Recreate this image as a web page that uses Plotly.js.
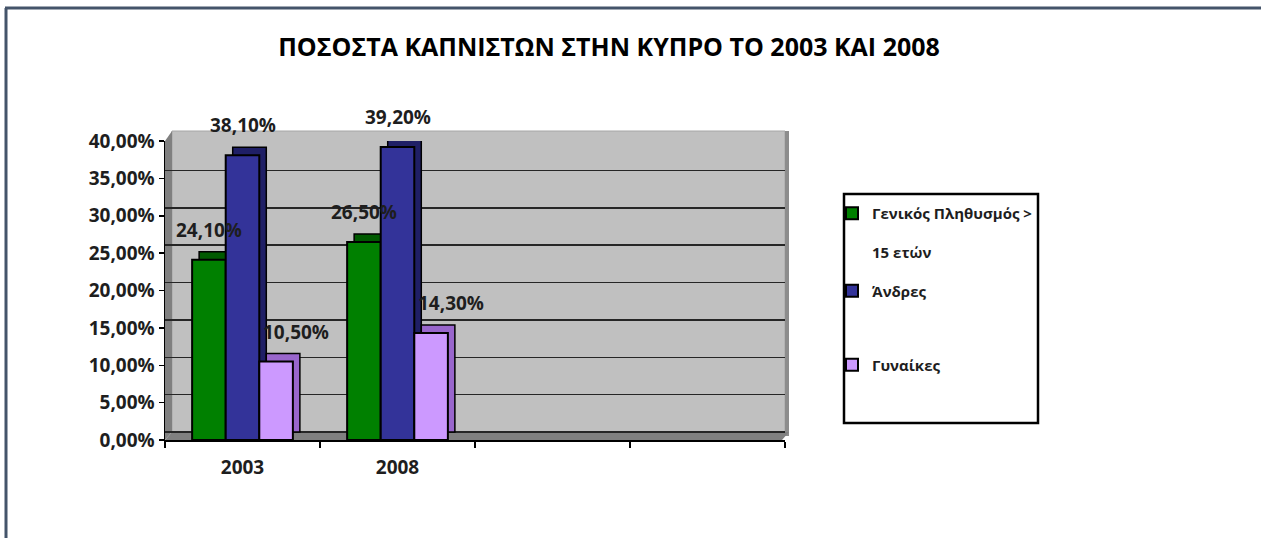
<!DOCTYPE html>
<html><head><meta charset="utf-8">
<script src="https://cdn.plot.ly/plotly-3.0.1.min.js"></script>
<style>html,body{margin:0;padding:0;background:#fff}#chart{width:1261px;height:538px}</style>
</head><body><div id="chart"></div>
<script>
// ---- data ----
const categories = ['2003', '2008', '\u200b', '\u200b\u200b'];
const years = ['2003', '2008'];
const seriesNames = ['Γενικός Πληθυσμός ><br><br>15 ετών', 'Άνδρες', 'Γυναίκες'];
const generalPop = [0.241, 0.265];
const men = [0.381, 0.392];
const women = [0.105, 0.143];
const yTickVals = [0, 0.05, 0.10, 0.15, 0.20, 0.25, 0.30, 0.35, 0.40];
const titleText = 'ΠΟΣΟΣΤΑ ΚΑΠΝΙΣΤΩΝ ΣΤΗΝ ΚΥΠΡΟ ΤΟ 2003 ΚΑΙ 2008';

// ---- style ----
const colors = ['#008000', '#333399', '#cc99ff'];
const depthColors = ['#005a00', '#1f1f66', '#9966cc'];
const W = 1261, H = 538;
const M = {l: 165, r: 476, t: 141, b: 98};
const PW = W - M.l - M.r, PH = H - M.t - M.b;
const px = x => (x - M.l) / PW;
const py = y => (H - M.b - y) / PH;
const FONT = 'Open Sans, Noto Sans, DejaVu Sans, sans-serif';
const txtColor = '#1e1e1e';
const yMax = 0.40;
const groupW = 0.65;
const barW = groupW / 3;
const catPx = PW / 4;
const depthDX = 7 / catPx;          // 3D depth, x (category units)
const depthDY = 8 * yMax / PH;       // 3D depth, y (value units)

const series = [generalPop, men, women];
const traces = [];
// back faces (3D depth) on the back-wall axis y
series.forEach((vals, k) => {
  traces.push({
    type: 'bar', x: years, y: vals, yaxis: 'y', width: barW,
    offset: -groupW / 2 + k * barW + depthDX,
    marker: {color: depthColors[k], line: {color: '#000', width: 1.5}},
    showlegend: false, hoverinfo: 'skip'
  });
});
// front faces on the front axis y2
series.forEach((vals, k) => {
  traces.push({
    type: 'bar', x: years, y: vals, yaxis: 'y2', name: seriesNames[k], width: barW,
    offset: -groupW / 2 + k * barW,
    marker: {color: colors[k], line: {color: '#000', width: 2}},
    legend: k === 0 ? 'legend' : 'legend' + (k + 1),
    hoverinfo: 'skip'
  });
});

const fmt = v => (v * 100).toFixed(2).replace('.', ',') + '%';
const labelXShift = [0, 0, 20];
const annotations = [];
series.forEach((vals, k) => {
  vals.forEach((v, i) => {
    annotations.push({
      xref: 'x', yref: 'y2', x: i + (k - 1) * barW, y: v,
      text: fmt(v), showarrow: false, yanchor: 'bottom',
      yshift: 15, xshift: labelXShift[k],
      font: {family: FONT, size: 19, color: txtColor, weight: 700}
    });
  });
});

function path(pts) {
  return 'M' + pts.map(p => px(p[0]) + ',' + py(p[1])).join('L') + 'Z';
}
const shapes = [
  {type: 'rect', xref: 'paper', yref: 'paper', x0: px(172), x1: px(785), y0: py(432), y1: py(131),
   fillcolor: '#c0c0c0', line: {color: '#a6a6a6', width: 1}, layer: 'below'},
  {type: 'rect', xref: 'paper', yref: 'paper', x0: px(785), x1: px(789), y0: py(436), y1: py(131),
   fillcolor: '#8c8c8c', line: {width: 0}, layer: 'below'},
  {type: 'path', xref: 'paper', yref: 'paper', path: path([[165, 440], [165, 141], [172, 131], [172, 432]]),
   fillcolor: '#808080', line: {width: 0}, layer: 'below'},
  {type: 'path', xref: 'paper', yref: 'paper', path: path([[165, 440], [172, 432], [789, 432], [782, 440]]),
   fillcolor: '#808080', line: {width: 0}, layer: 'below'},
  {type: 'rect', xref: 'paper', yref: 'paper', x0: px(844), x1: px(1038), y0: py(423), y1: py(194),
   fillcolor: 'rgba(0,0,0,0)', line: {color: '#000', width: 2.5}},
  {type: 'line', xref: 'paper', yref: 'paper', x0: px(5), x1: px(1261), y0: py(8), y1: py(8),
   line: {color: '#44546a', width: 3}},
  {type: 'line', xref: 'paper', yref: 'paper', x0: px(6), x1: px(6), y0: py(8), y1: py(538),
   line: {color: '#44546a', width: 3}}
];

const legendBase = {
  xref: 'container', yref: 'container', xanchor: 'left', yanchor: 'middle', valign: 'top',
  bgcolor: 'rgba(0,0,0,0)', borderwidth: 0, itemwidth: 30,
  font: {family: FONT, size: 15, color: txtColor, weight: 700},
  itemclick: false, itemdoubleclick: false
};
const legendX = (837 - 5) / W;

const layout = {
  width: W, height: H,
  margin: M,
  paper_bgcolor: '#fff', plot_bgcolor: 'rgba(0,0,0,0)',
  separators: ', ',
  showlegend: true,
  title: {text: titleText, x: 609 / W, xref: 'container', xanchor: 'center',
          y: 1 - 47 / H, yref: 'container', yanchor: 'middle',
          font: {family: FONT, size: 25, color: '#000', weight: 700}},
  barmode: 'overlay',
  xaxis: {type: 'category', categoryorder: 'array', categoryarray: categories,
          range: [-0.5, 3.5], tickson: 'boundaries', ticks: 'outside', ticklen: 6,
          tickcolor: '#000', tickwidth: 1.5, showline: true, linecolor: '#000', linewidth: 1.5,
          showgrid: false, fixedrange: true, ticklabelstandoff: 10,
          tickfont: {family: FONT, size: 19, color: txtColor, weight: 700}},
  // back wall axis: shifted by the 3D depth, carries the gridlines
  yaxis: {range: [-depthDY, yMax - depthDY], tickmode: 'array', tickvals: yTickVals,
          showticklabels: false, ticks: '', showline: false, zeroline: false, fixedrange: true,
          showgrid: true, gridcolor: '#262626', gridwidth: 1.5},
  // front axis with the tick labels
  yaxis2: {overlaying: 'y', side: 'left', anchor: 'x', range: [0, yMax], tickmode: 'array',
           tickvals: yTickVals, tickformat: '.2%',
           ticks: 'outside', ticklen: 5, tickcolor: '#000', tickwidth: 1.5,
           showline: true, linecolor: '#000', linewidth: 1.5,
           showgrid: false, zeroline: false, fixedrange: true,
           tickfont: {family: FONT, size: 19, color: txtColor, weight: 700}},
  legend: Object.assign({}, legendBase, {x: legendX, y: 1 - 233 / H}),
  legend2: Object.assign({}, legendBase, {x: legendX, y: 1 - 291 / H}),
  legend3: Object.assign({}, legendBase, {x: legendX, y: 1 - 365 / H}),
  annotations: annotations,
  shapes: shapes
};

Plotly.newPlot('chart', traces, layout, {displayModeBar: false, staticPlot: true});
</script>
</body></html>
